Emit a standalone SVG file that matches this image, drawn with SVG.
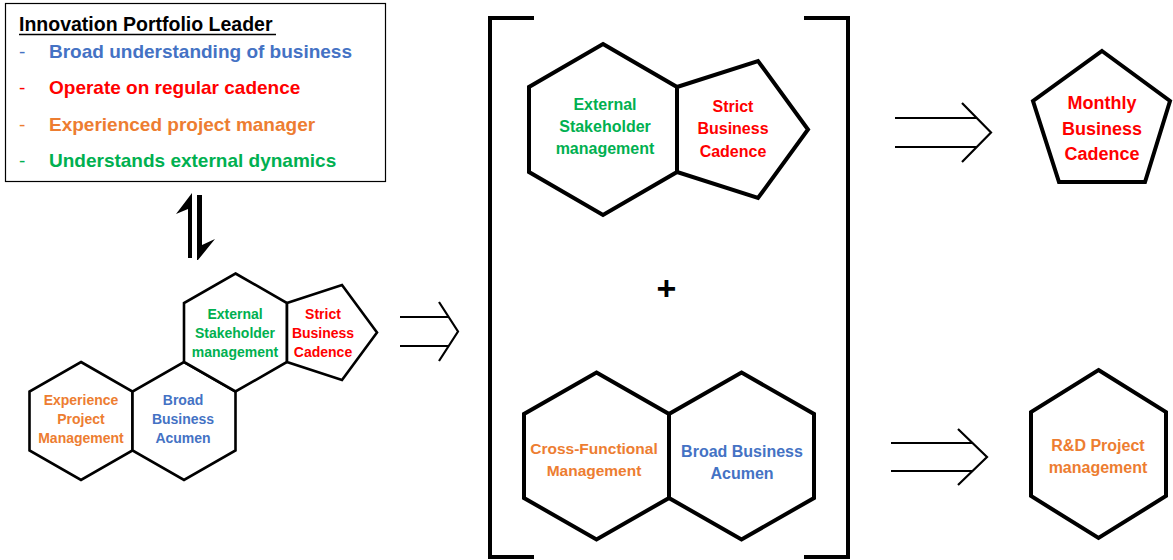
<svg xmlns="http://www.w3.org/2000/svg" width="1173" height="560" viewBox="0 0 1173 560">
<style>
text{font-family:"Liberation Sans",Arial,sans-serif;font-weight:bold}
.c{text-anchor:middle}
.g{fill:#00B050}.r{fill:#FF0000}.o{fill:#ED7D31}.b{fill:#4472C4}
.s{fill:#fff;stroke:#000;stroke-width:2.6;stroke-linejoin:miter}
.L{fill:#fff;stroke:#000;stroke-width:4;stroke-linejoin:miter}
.a{fill:none;stroke:#000;stroke-width:2.2}
.s14{font-size:14px}.s16{font-size:16px}.s18{font-size:18px}
</style>
<rect width="1173" height="560" fill="#fff"/>
<g id="leader">
<rect x="5.5" y="3.5" width="380" height="178" fill="#fff" stroke="#000" stroke-width="1.2"/>
<text x="19" y="31" font-size="19.5" fill="#000">Innovation Portfolio Leader</text>
<line x1="19" y1="34.5" x2="276" y2="34.5" stroke="#000" stroke-width="1.6"/>
<g font-size="19">
<text x="19" y="58" class="b" style="font-weight:normal">-</text>
<text x="49" y="58" class="b">Broad understanding of business</text>
<text x="19" y="94" class="r" style="font-weight:normal">-</text>
<text x="49" y="94" class="r">Operate on regular cadence</text>
<text x="19" y="131" class="o" style="font-weight:normal">-</text>
<text x="49" y="131" class="o">Experienced project manager</text>
<text x="19" y="167" class="g" style="font-weight:normal">-</text>
<text x="49" y="167" class="g">Understands external dynamics</text>
</g>
</g>
<g id="connectors">
<polygon points="192,193 192,258 188,258 188,209 176,214" fill="#000"/>
<polygon points="197,195 202,195 202,245 215,239 198,260 197,260" fill="#000"/>
<path class="a" d="M400,317 H449 M400,346 H449 M439,302 L458,331.5 L439,361"/>
<path class="a" d="M895,118 H977 M895,147 H977 M962,103 L991,132.5 L962,162"/>
<path class="a" d="M891,443 H972.5 M891,471 H972.5 M958,429 L987,457 L958,485"/>
</g>
<g id="bracket">
<path d="M534,18 H490 V557 H534" fill="none" stroke="#000" stroke-width="4"/>
<path d="M804,18 H848 V557 H804" fill="none" stroke="#000" stroke-width="4"/>
<text x="666.5" y="300" class="c" font-size="34" fill="#000">+</text>
</g>
<g id="small-experience">
<polygon class="s" points="81,362 132.5,391.5 132.5,450.5 81,480 29.5,450.5 29.5,391.5"/>
<text class="c o s14" x="81" y="405">Experience</text>
<text class="c o s14" x="81" y="424">Project</text>
<text class="c o s14" x="81" y="443">Management</text>
</g>
<g id="small-broad">
<polygon class="s" points="184,362 235.5,391.5 235.5,450.5 184,480 132.5,450.5 132.5,391.5"/>
<text class="c b s14" x="183" y="405">Broad</text>
<text class="c b s14" x="183" y="424">Business</text>
<text class="c b s14" x="183" y="443">Acumen</text>
</g>
<g id="small-external">
<polygon class="s" points="235.5,273.5 287,303 287,362 235.5,391.5 184,362 184,303"/>
<text class="c g s14" x="235" y="319">External</text>
<text class="c g s14" x="235" y="338">Stakeholder</text>
<text class="c g s14" x="235" y="357">management</text>
</g>
<g id="small-strict">
<polygon class="s" points="287,303 342,285 377,332.5 342,380 287,362"/>
<text class="c r s14" x="323" y="319">Strict</text>
<text class="c r s14" x="323" y="338">Business</text>
<text class="c r s14" x="323" y="357">Cadence</text>
</g>
<g id="big-external">
<polygon class="L" points="603,44 677,87 677,172 603,215 529,172 529,87"/>
<text class="c g s16" x="605" y="110">External</text>
<text class="c g s16" x="605" y="132">Stakeholder</text>
<text class="c g s16" x="605" y="154">management</text>
</g>
<g id="big-strict">
<polygon class="L" points="677,87 758,61 808,129.5 758,198 677,172"/>
<text class="c r s16" x="733" y="112">Strict</text>
<text class="c r s16" x="733" y="134">Business</text>
<text class="c r s16" x="733" y="157">Cadence</text>
</g>
<g id="big-cross">
<polygon class="L" points="596.5,372.5 669,414 669,498 596.5,539.5 524,498 524,414"/>
<text class="c o" font-size="15.5" x="594" y="454">Cross-Functional</text>
<text class="c o" font-size="15.5" x="594" y="476">Management</text>
</g>
<g id="big-broad">
<polygon class="L" points="741.5,372.5 814,414 814,498 741.5,539.5 669,498 669,414"/>
<text class="c b s16" x="742" y="457">Broad Business</text>
<text class="c b s16" x="742" y="479">Acumen</text>
</g>
<g id="monthly">
<polygon class="L" points="1102,51 1170,101 1145,182 1059,182 1033,101"/>
<text class="c r s18" x="1102" y="109">Monthly</text>
<text class="c r s18" x="1102" y="135">Business</text>
<text class="c r s18" x="1102" y="160">Cadence</text>
</g>
<g id="rd">
<polygon class="L" points="1098.5,370 1166,412 1166,496 1098.5,538 1031,496 1031,412"/>
<text class="c o s16" x="1098" y="451">R&amp;D Project</text>
<text class="c o s16" x="1098" y="473">management</text>
</g>
</svg>
